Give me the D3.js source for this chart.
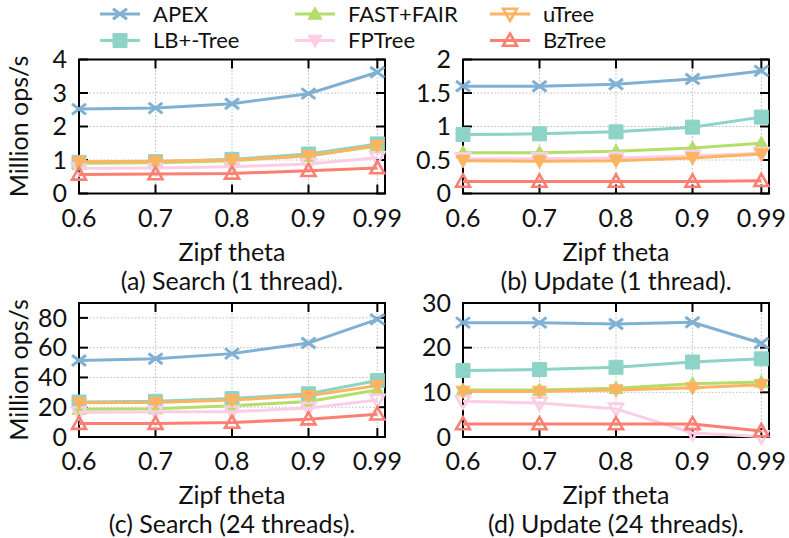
<!DOCTYPE html>
<html>
<head>
<meta charset="utf-8">
<script src="https://cdn.jsdelivr.net/npm/d3@7"></script>
<style>
  body { margin: 0; background: #fff; }
  text { font-family: Lato, "DejaVu Sans", sans-serif; fill: #111; }
</style>
</head>
<body>
<svg width="789" height="538"></svg>
<script>
// Data: x positions (Zipf theta) and series
const thetas = [0.6, 0.7, 0.8, 0.9, 0.99];
const seriesNames = ["APEX", "LB+-Tree", "FAST+FAIR", "FPTree", "uTree", "BzTree"];
const seriesColors = ["#80b1d3", "#8dd3c7", "#b3de69", "#fccde5", "#fdb462", "#fb8072"];

// Million ops/s, one row per series (same order as seriesNames)
const searchOne = [
    [2.52, 2.55, 2.68, 2.98, 3.62],
    [0.93, 0.95, 1.02, 1.18, 1.48],
    [0.9, 0.92, 0.98, 1.12, 1.42],
    [0.75, 0.76, 0.8, 0.88, 1.07],
    [0.95, 0.96, 1.0, 1.13, 1.43],
    [0.57, 0.58, 0.6, 0.68, 0.76]
];
const updateOne = [
    [1.6, 1.6, 1.63, 1.71, 1.83],
    [0.88, 0.89, 0.92, 0.99, 1.14],
    [0.61, 0.61, 0.63, 0.68, 0.75],
    [0.52, 0.52, 0.53, 0.56, 0.6],
    [0.49, 0.48, 0.49, 0.53, 0.59],
    [0.18, 0.18, 0.18, 0.18, 0.19]
];
const searchMany = [
    [51.4, 52.6, 56, 63.1, 79],
    [23.5, 24, 25.8, 29, 38],
    [18.7, 19, 21, 23.9, 31.6],
    [16.5, 17, 17, 19.4, 24.8],
    [23, 23.2, 24.8, 27.7, 34.5],
    [9, 9, 9.7, 12, 15.3]
];
const updateMany = [
    [25.6, 25.6, 25.3, 25.7, 21],
    [14.9, 15.1, 15.6, 16.8, 17.5],
    [10.5, 10.5, 10.9, 11.9, 12.3],
    [8.0, 7.6, 6.3, 0.9, 0.1],
    [10.2, 10.2, 10.5, 11.0, 11.7],
    [2.9, 2.9, 2.9, 2.9, 1.35]
];

// Tick labels
const xTickLabels = ["0.6", "0.7", "0.8", "0.9", "0.99"];
const yTicksSearchOne = [0, 1, 2, 3, 4];
const yTicksUpdateOne = [0, 0.5, 1, 1.5, 2];
const yTicksSearchMany = [0, 20, 40, 60, 80];
const yTicksUpdateMany = [0, 10, 20, 30];

const captions = ["(a) Search (1 thread).", "(b) Update (1 thread).",
                  "(c) Search (24 threads).", "(d) Update (24 threads)."];

// marker shapes: plots and legend differ a bit (as in the original)
const plotMarkers = ["cross", "square", "triUpFill", "triDownOpen", "triDownFill", "triUpOpen"];
const legendMarkers = ["cross", "square", "triUpFill", "triDownFill", "triDownOpen", "triUpOpen"];

const svg = d3.select("svg");
const FS = 25;

const panels = [
    { data: searchOne, ticks: yTicksSearchOne, max: 4, left: 79, top: 59.5, cap: captions[0], ylabel: true },
    { data: updateOne, ticks: yTicksUpdateOne, max: 2, left: 463, top: 59.5, cap: captions[1], ylabel: false },
    { data: searchMany, ticks: yTicksSearchMany, max: 90, left: 79, top: 303, cap: captions[2], ylabel: true },
    { data: updateMany, ticks: yTicksUpdateMany, max: 30, left: 463, top: 303, cap: captions[3], ylabel: false }
];
const pw = 306, ph = 134;

function markerPath(type) {
    const s = 7;
    if (type === "cross") return `M${-s},${-s * 0.75}L${s},${s * 0.75}M${-s},${s * 0.75}L${s},${-s * 0.75}`;
    if (type === "square") return `M${-s},${-s}H${s}V${s}H${-s}Z`;
    if (type.startsWith("triUp")) return `M0,${-s}L${s},${s * 0.75}L${-s},${s * 0.75}Z`;
    return `M0,${s}L${s},${-s * 0.75}L${-s},${-s * 0.75}Z`;
}

function drawMarker(g, type, color) {
    const p = g.append("path").attr("d", markerPath(type));
    if (type === "cross") {
        p.attr("fill", "none").attr("stroke", color).attr("stroke-width", 3);
    } else if (type.endsWith("Open")) {
        p.attr("fill", "none").attr("stroke", color).attr("stroke-width", 2.6);
    } else {
        p.attr("fill", color).attr("stroke", color).attr("stroke-width", 1);
    }
}

panels.forEach(pn => {
    const x = d3.scaleLinear().domain([0.6, 1.0]).range([pn.left, pn.left + pw]);
    const y = d3.scaleLinear().domain([0, pn.max]).range([pn.top + ph, pn.top]);
    const g = svg.append("g");

    // grid
    g.selectAll(".gx").data(thetas).enter().append("line")
        .attr("x1", d => x(d)).attr("x2", d => x(d))
        .attr("y1", pn.top).attr("y2", pn.top + ph)
        .attr("stroke", "#bbb").attr("stroke-width", 1).attr("stroke-dasharray", "1.5,2");
    g.selectAll(".gy").data(pn.ticks).enter().append("line")
        .attr("x1", pn.left).attr("x2", pn.left + pw)
        .attr("y1", d => y(d)).attr("y2", d => y(d))
        .attr("stroke", "#bbb").attr("stroke-width", 1).attr("stroke-dasharray", "1.5,2");

    // tick marks (inward, mirrored)
    const tl = 9;
    thetas.forEach(t => {
        g.append("line").attr("x1", x(t)).attr("x2", x(t))
            .attr("y1", pn.top + ph).attr("y2", pn.top + ph - tl)
            .attr("stroke", "#000").attr("stroke-width", 2);
        g.append("line").attr("x1", x(t)).attr("x2", x(t))
            .attr("y1", pn.top).attr("y2", pn.top + tl)
            .attr("stroke", "#000").attr("stroke-width", 2);
    });
    pn.ticks.forEach(v => {
        g.append("line").attr("x1", pn.left).attr("x2", pn.left + tl)
            .attr("y1", y(v)).attr("y2", y(v))
            .attr("stroke", "#000").attr("stroke-width", 2);
        g.append("line").attr("x1", pn.left + pw).attr("x2", pn.left + pw - tl)
            .attr("y1", y(v)).attr("y2", y(v))
            .attr("stroke", "#000").attr("stroke-width", 2);
    });

    // frame
    g.append("rect").attr("x", pn.left).attr("y", pn.top)
        .attr("width", pw).attr("height", ph)
        .attr("fill", "none").attr("stroke", "#000").attr("stroke-width", 2);

    // tick labels
    g.selectAll(".xl").data(thetas).enter().append("text")
        .attr("x", (d, i) => x(d)).attr("y", pn.top + ph + 33)
        .attr("text-anchor", "middle").attr("font-size", FS)
        .text((d, i) => xTickLabels[i]);
    g.selectAll(".yl").data(pn.ticks).enter().append("text")
        .attr("x", pn.left - 12).attr("y", d => y(d))
        .attr("dy", "0.35em")
        .attr("text-anchor", "end").attr("font-size", FS)
        .text(d => d);

    // axis titles
    g.append("text").attr("x", pn.left + pw / 2).attr("y", pn.top + ph + 67)
        .attr("text-anchor", "middle").attr("font-size", FS).text("Zipf theta");
    g.append("text").attr("x", pn.left + pw / 2).attr("y", pn.top + ph + 96)
        .attr("text-anchor", "middle").attr("font-size", FS).text(pn.cap);
    if (pn.ylabel) {
        g.append("text")
            .attr("transform", `translate(28,${pn.top + ph / 2}) rotate(-90)`)
            .attr("text-anchor", "middle").attr("font-size", FS).text("Million ops/s");
    }

    // series
    const line = d3.line().x((d, i) => x(thetas[i])).y(d => y(d));
    pn.data.forEach((vals, si) => {
        const sg = g.append("g");
        sg.append("path").attr("d", line(vals))
            .attr("fill", "none").attr("stroke", seriesColors[si]).attr("stroke-width", 3);
        vals.forEach((v, i) => {
            const mg = sg.append("g").attr("transform", `translate(${x(thetas[i])},${y(v)})`);
            drawMarker(mg, plotMarkers[si], seriesColors[si]);
        });
    });
});

// legend: 3 columns x 2 rows
const legCols = [100, 295, 490];
const legRows = [14, 40.5];
seriesNames.forEach((name, i) => {
    const cx = legCols[Math.floor(i / 2)];
    const cy = legRows[i % 2];
    const lg = svg.append("g");
    lg.append("line").attr("x1", cx).attr("x2", cx + 40).attr("y1", cy).attr("y2", cy)
        .attr("stroke", seriesColors[i]).attr("stroke-width", 3);
    const mg = lg.append("g").attr("transform", `translate(${cx + 20},${cy})`);
    drawMarker(mg, legendMarkers[i], seriesColors[i]);
    lg.append("text").attr("x", cx + 53).attr("y", cy).attr("dy", "0.35em")
        .attr("font-size", 22).text(name);
});
</script>
</body>
</html>
